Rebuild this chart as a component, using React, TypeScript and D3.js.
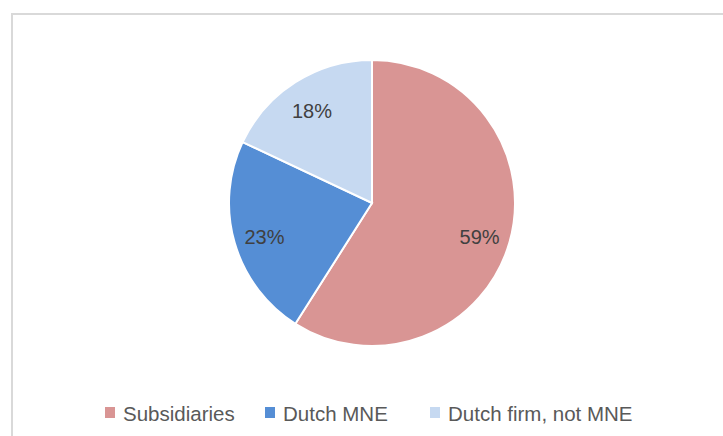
import React, { useEffect, useRef } from "react";
import * as d3 from "d3";

const categories = ["Subsidiaries", "Dutch MNE", "Dutch firm, not MNE"];
const shares = [59, 23, 18];
const colors = ["#D99594", "#558ED5", "#C6D9F1"];

const width = 723;
const height = 436;
const cx = 372;
const cy = 203;
const radius = 143;
const labelRadius = 112;
// legend swatch left edges
const legendX = [105, 265, 430];
const legendY = 413;

const App = () => {
  const svgRef = useRef<SVGSVGElement>(null);

  useEffect(() => {
    const svg = d3.select(svgRef.current);
    svg.selectAll("*").remove();

    // chart frame (runs off the right and bottom edge)
    svg.append("rect")
      .attr("x", 12)
      .attr("y", 14)
      .attr("width", width + 20)
      .attr("height", height + 20)
      .attr("fill", "#fff")
      .attr("stroke", "#d9d9d9")
      .attr("stroke-width", 2);

    const pie = d3.pie<number>().sort(null).value((d) => d);
    const arcs = pie(shares);
    const arc = d3.arc<d3.PieArcDatum<number>>().innerRadius(0).outerRadius(radius);
    const labelArc = d3.arc<d3.PieArcDatum<number>>().innerRadius(labelRadius).outerRadius(labelRadius);

    const g = svg.append("g").attr("transform", `translate(${cx},${cy})`);

    g.selectAll("path.slice")
      .data(arcs)
      .join("path")
      .attr("class", "slice")
      .attr("d", arc)
      .attr("fill", (_, i) => colors[i])
      .attr("stroke", "#fff")
      .attr("stroke-width", 2);

    g.selectAll("text.label")
      .data(arcs)
      .join("text")
      .attr("class", "label")
      .attr("x", (d) => labelArc.centroid(d)[0])
      .attr("y", (d) => labelArc.centroid(d)[1] + 3)
      .attr("text-anchor", "middle")
      .attr("dominant-baseline", "central")
      .attr("font-family", "Liberation Sans, Arial, sans-serif")
      .attr("font-size", 20)
      .attr("fill", "#404040")
      .text((d) => `${d.data}%`);

    const legend = svg.append("g");
    categories.forEach((c, i) => {
      legend.append("rect")
        .attr("x", legendX[i])
        .attr("y", legendY - 6)
        .attr("width", 10)
        .attr("height", 11)
        .attr("fill", colors[i]);
      legend.append("text")
        .attr("x", legendX[i] + 18)
        .attr("y", legendY)
        .attr("dominant-baseline", "central")
        .attr("font-family", "Liberation Sans, Arial, sans-serif")
        .attr("font-size", 20.5)
        .attr("fill", "#595959")
        .text(c);
    });
  }, []);

  return (
    <svg
      ref={svgRef}
      width={width}
      height={height}
      style={{ position: "absolute", left: 0, top: 0, background: "#fff" }}
    ></svg>
  );
};

export default App;
